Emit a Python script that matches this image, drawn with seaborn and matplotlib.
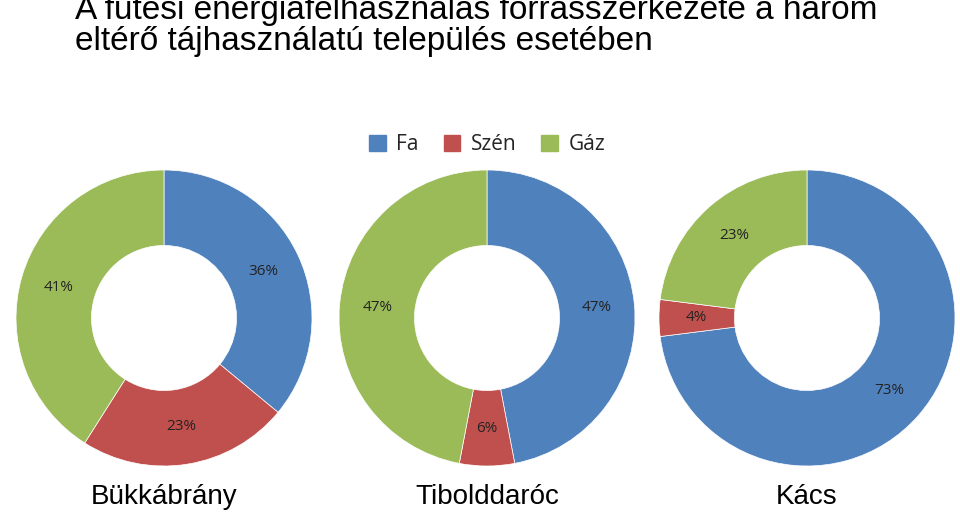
import matplotlib
matplotlib.use("Agg")
import matplotlib.pyplot as plt
import seaborn as sns

# data
settlements = ["Bükkábrány", "Tibolddaróc", "Kács"]
sources = ["Fa", "Szén", "Gáz"]
fa = [36, 47, 73]
szen = [23, 6, 4]
gaz = [41, 47, 23]

sns.set_theme(style="white")
colors = ["#4F81BD", "#C0504D", "#9BBB59"]

fig = plt.figure(figsize=(9.6, 5.17), dpi=100)

fig.text(0.078, 1.01, "A fűtési energiafelhasználás forrásszerkezete a három\n"
         "eltérő tájhasználatú település esetében",
         ha="left", va="top", fontsize=24, family="Liberation Sans",
         color="black", linespacing=1.0)

centers_x = [164, 487, 807]
cy, r = 318, 148
W, H = 960, 517

for i, name in enumerate(settlements):
    vals = [fa[i], szen[i], gaz[i]]
    cx = centers_x[i]
    ax = fig.add_axes([(cx - r) / W, (H - cy - r) / H, 2 * r / W, 2 * r / H])
    wedges, texts = ax.pie(vals, colors=colors, startangle=90, counterclock=False,
                           radius=1.0, wedgeprops=dict(width=0.51, edgecolor="white",
                                                       linewidth=0.5),
                           labels=[f"{v}%" for v in vals], labeldistance=0.745,
                           textprops=dict(fontsize=11, family="Open Sans",
                                          color="#222222"))
    for t in texts:
        t.set_ha("center")
        t.set_va("center")
    ax.set_xlim(-1, 1)
    ax.set_ylim(-1, 1)
    ax.set_aspect("equal")
    fig.text(cx / W, (H - 497) / H, name, ha="center", va="center",
             fontsize=20, family="Liberation Sans", color="black")

handles = [plt.Rectangle((0, 0), 1, 1, color=c) for c in colors]
fig.legend(handles, sources, loc="center", bbox_to_anchor=(487 / W, (H - 145) / H),
           ncol=3, frameon=False, prop=dict(family="Open Sans", size=15),
           handlelength=0.8, handleheight=0.8, columnspacing=1.2, handletextpad=0.5)

fig.savefig("out.png", dpi=100)
